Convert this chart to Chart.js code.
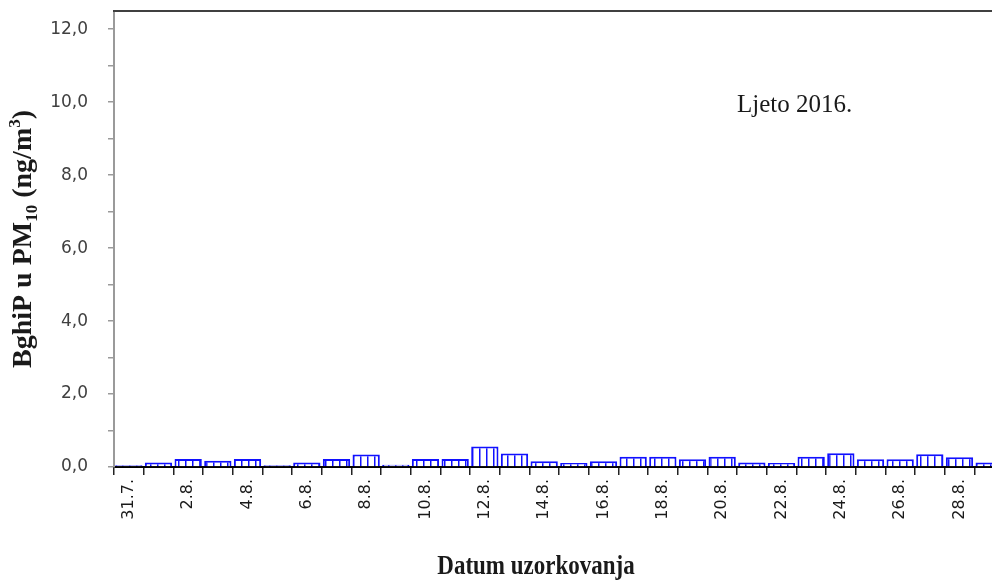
<!DOCTYPE html>
<html>
<head>
<meta charset="utf-8">
<script src="https://cdn.jsdelivr.net/npm/chart.js@4.4.1/dist/chart.umd.min.js"></script>
<style>
	html, body { margin: 0; padding: 0; background: #fff; overflow: hidden; }
	#wrap { width: 1010px; height: 582px; }
</style>
</head>
<body>
<div id="wrap"><canvas id="mycanvas"></canvas></div>
<script>
var dates = ['31.7.', '1.8.', '2.8.', '3.8.', '4.8.', '5.8.', '6.8.', '7.8.', '8.8.', '9.8.',
	'10.8.', '11.8.', '12.8.', '13.8.', '14.8.', '15.8.', '16.8.', '17.8.', '18.8.', '19.8.',
	'20.8.', '21.8.', '22.8.', '23.8.', '24.8.', '25.8.', '26.8.', '27.8.', '28.8.', '29.8.'];
var bghip = [0.05, 0.12, 0.22, 0.17, 0.22, 0.05, 0.12, 0.22, 0.34, 0.06,
	0.22, 0.22, 0.56, 0.37, 0.16, 0.11, 0.16, 0.28, 0.28, 0.21,
	0.28, 0.12, 0.11, 0.28, 0.38, 0.21, 0.21, 0.35, 0.27, 0.12];
var yMax = 12.5;
var seasonLabel = 'Ljeto 2016.';

// vertical hatch fill
var pc = document.createElement('canvas');
pc.width = 7;
pc.height = 8;
var pctx = pc.getContext('2d');
pctx.fillStyle = '#ffffff';
pctx.fillRect(0, 0, 7, 8);
pctx.fillStyle = '#1010ff';
pctx.fillRect(3, 0, 1.5, 8);
var hatch = pctx.createPattern(pc, 'repeat');

var extras = {
	id: 'extras',
	afterDraw: function(chart) {
		var ctx = chart.ctx;
		var a = chart.chartArea;
		ctx.save();
		// top frame line
		ctx.strokeStyle = '#404040';
		ctx.lineWidth = 2;
		ctx.beginPath();
		ctx.moveTo(a.left - 1, a.top);
		ctx.lineTo(a.right, a.top);
		ctx.stroke();

		// season note
		ctx.fillStyle = '#1a1a1a';
		ctx.font = '25px "Liberation Serif"';
		ctx.textBaseline = 'alphabetic';
		ctx.textAlign = 'left';
		ctx.fillText(seasonLabel, a.left + 623, 112);

		// x title
		ctx.font = 'bold 23px "Liberation Serif"';
		ctx.textAlign = 'center';
		ctx.save();
		ctx.translate(536, 574);
		ctx.scale(1, 1.15);
		ctx.fillText('Datum uzorkovanja', 0, 0);
		ctx.restore();

		// y title with sub/superscript
		var parts = [
			['BghiP u PM', 'bold 28px "Liberation Serif"', 0],
			['10', 'bold 17px "Liberation Serif"', 6],
			[' (ng/m', 'bold 28px "Liberation Serif"', 0],
			['3', 'bold 17px "Liberation Serif"', -11],
			[')', 'bold 28px "Liberation Serif"', 0]
		];
		var total = 0;
		var i;
		for (i = 0; i < parts.length; i++) {
			ctx.font = parts[i][1];
			total += ctx.measureText(parts[i][0]).width;
		}
		ctx.translate(31, (a.top + a.bottom) / 2);
		ctx.rotate(-Math.PI / 2);
		ctx.textAlign = 'left';
		var x = -total / 2;
		for (i = 0; i < parts.length; i++) {
			ctx.font = parts[i][1];
			ctx.fillText(parts[i][0], x, parts[i][2]);
			x += ctx.measureText(parts[i][0]).width;
		}
		ctx.restore();
	}
};

var chartdata = {
	labels: dates,
	datasets: [
		{
			label: 'BghiP',
			backgroundColor: hatch,
			borderColor: '#1010ff',
			borderWidth: 2,
			borderSkipped: 'bottom',
			barPercentage: 0.92,
			categoryPercentage: 1.0,
			data: bghip
		}
	]
};

var ctx = document.getElementById('mycanvas');

var barGraph = new Chart(ctx, {
	type: 'bar',
	data: chartdata,
	plugins: [extras],
	options: {
		responsive: true,
		maintainAspectRatio: false,
		animation: false,
		layout: { padding: { left: 0, top: 11, right: 6, bottom: 0 } },
		plugins: {
			legend: { display: false },
			tooltip: { enabled: false }
		},
		scales: {
			x: {
				afterFit: function(s) {
					s.height = 115;
					s.paddingLeft = 0;
					s.paddingRight = 0;
				},
				border: { color: '#000000', width: 2 },
				grid: { drawOnChartArea: false, offset: true, tickLength: 8, color: '#222222', lineWidth: 1.5 },
				ticks: {
					autoSkip: false,
					maxRotation: 90,
					minRotation: 90,
					padding: 4,
					color: '#1a1a1a',
					font: { family: '"DejaVu Sans"', size: 16 },
					callback: function(val, index) {
						return index % 2 === 0 ? this.getLabelForValue(val) : '';
					}
				}
			},
			y: {
				min: 0,
				max: yMax,
				afterFit: function(s) {
					s.width = 114;
					s.paddingTop = 0;
					s.paddingBottom = 0;
				},
				border: { color: '#9a9a9a', width: 2 },
				grid: { drawOnChartArea: false, tickLength: 6, color: '#9a9a9a', lineWidth: 1.5 },
				ticks: {
					stepSize: 1,
					includeBounds: false,
					padding: 20,
					color: '#404040',
					font: { family: '"DejaVu Sans"', size: 17 },
					callback: function(v) {
						return v % 2 === 0 ? v.toFixed(1).replace('.', ',') : '';
					}
				}
			}
		}
	}
});
</script>
</body>
</html>
